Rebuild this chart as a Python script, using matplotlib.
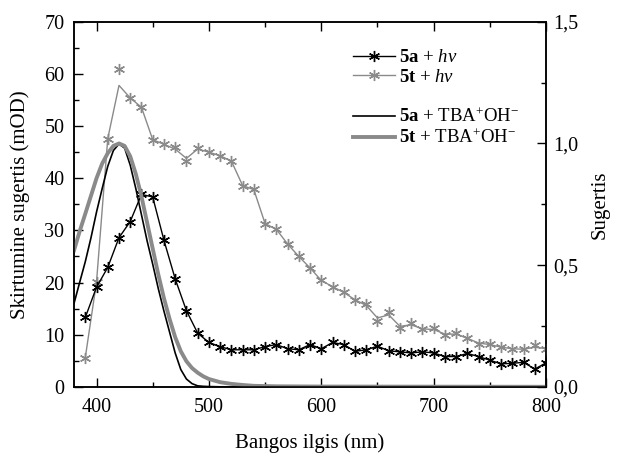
import matplotlib
matplotlib.use("Agg")
import matplotlib.pyplot as plt
from matplotlib.lines import Line2D
from matplotlib.ticker import MultipleLocator

plt.rcParams["font.family"] = ["Liberation Serif", "DejaVu Serif"]
plt.rcParams["mathtext.fontset"] = "custom"
plt.rcParams["mathtext.rm"] = "Liberation Serif"
plt.rcParams["mathtext.it"] = "Liberation Serif:italic"
plt.rcParams["mathtext.bf"] = "Liberation Serif:bold"

# hv series (left axis, mOD), points every 10 nm
wl_hv = list(range(390, 801, 10))
a_hv = [13.3, 19.1, 22.9, 28.6, 31.7, 36.9, 36.4, 28.1, 20.7, 14.6,
        10.3, 8.5, 7.7, 7.1, 7.1, 7.1, 7.7, 8.1, 7.3, 7.1,
        8.1, 7.3, 8.5, 8.1, 6.8, 7.1, 7.8, 6.9, 6.7, 6.5,
        6.7, 6.5, 5.8, 5.8, 6.4, 5.8, 5.1, 4.4, 4.5, 4.7,
        3.4, 4.6]
t_hv = [5.6, 20.1, 47.6, 60.9, 55.4, 53.6, 47.4, 46.5, 46.0, 43.3,
        45.8, 45.0, 44.3, 43.3, 38.5, 38.0, 31.3, 30.3, 27.4, 25.0,
        22.8, 20.4, 19.2, 18.1, 16.7, 15.8, 12.7, 14.3, 11.3, 12.2,
        11.0, 11.2, 10.0, 10.3, 9.4, 8.3, 8.2, 7.7, 7.2, 7.2,
        8.0, 7.3]
# smoothed line drawn through the 5t + hv points
t_hv_line = [5.6, 20.1, 47.6, 57.8, 55.4, 53.6, 47.4, 46.5, 45.6, 43.8,
             45.6, 45.0, 44.3, 43.3, 38.6, 37.8, 31.3, 30.2, 27.4, 25.0,
             22.8, 20.4, 19.2, 18.1, 16.7, 15.6, 13.2, 13.8, 11.6, 11.9,
             11.1, 11.0, 10.1, 10.1, 9.3, 8.4, 8.1, 7.6, 7.3, 7.2,
             7.6, 7.3]

# TBA+OH- absorbance (right axis)
wl_tba = [380, 385, 390, 395, 400, 405, 410, 415, 420, 425, 430, 435, 440,
          445, 450, 455, 460, 465, 470, 475, 480, 485, 490, 495, 500, 510,
          520, 530, 540, 560, 600, 800]
a_tba = [0.343, 0.429, 0.514, 0.611, 0.718, 0.814, 0.906, 0.971, 0.998,
         0.981, 0.911, 0.814, 0.707, 0.600, 0.504, 0.403, 0.311, 0.225,
         0.139, 0.071, 0.032, 0.013, 0.004, 0.002, 0.001, 0.0, 0.0, 0.0,
         0.0, 0.0, 0.0, 0.0]
t_tba = [0.561, 0.639, 0.711, 0.784, 0.857, 0.917, 0.960, 0.990, 1.0,
         0.990, 0.947, 0.874, 0.782, 0.675, 0.568, 0.461, 0.364, 0.279,
         0.204, 0.146, 0.105, 0.077, 0.058, 0.043, 0.032, 0.019, 0.012,
         0.0075, 0.004, 0.002, 0.001, 0.0]

left_ticks = [0, 10, 20, 30, 40, 50, 60, 70]
right_ticks = [0.0, 0.5, 1.0, 1.5]
right_labels = ["0,0", "0,5", "1,0", "1,5"]
x_ticks = [400, 500, 600, 700, 800]

gray = "#8a8a8a"
star = (6, 2, 0)

fig = plt.figure(figsize=(6.17, 4.54), dpi=100)
ax = fig.add_axes([0.120, 0.148, 0.765, 0.804])
ax2 = ax.twinx()

ax.plot(wl_hv, t_hv_line, color=gray, lw=1.0, zorder=2)
ax.plot(wl_hv, t_hv, color=gray, lw=0, marker=star, ms=8, mew=1.0, zorder=3)
ax.plot(wl_hv, a_hv, color="black", lw=1.0, marker=star, ms=8, mew=1.0, zorder=4)

ax2.plot(wl_tba, a_tba, color="black", lw=1.2)
ax2.plot(wl_tba, t_tba, color=gray, lw=2.8)

ax.set_xlim(380, 800)
ax.set_ylim(0, 70)
ax2.set_ylim(0, 1.5)
ax.set_xticks(x_ticks)
ax.set_yticks(left_ticks)
ax2.set_yticks(right_ticks)
ax2.set_yticklabels(right_labels)
ax.xaxis.set_minor_locator(MultipleLocator(50))
ax.yaxis.set_minor_locator(MultipleLocator(5))
ax2.yaxis.set_minor_locator(MultipleLocator(0.25))

ax.tick_params(which="both", direction="in", top=True, right=False, labelsize=14.5, width=1.0)
ax.tick_params(which="major", length=6.5)
ax.tick_params(which="minor", length=3.5)
ax.tick_params(axis="x", which="major", pad=8)
ax.tick_params(axis="y", which="major", pad=7)
ax2.tick_params(which="both", direction="in", labelsize=14.5, width=1.0)
ax2.tick_params(which="major", length=6.5, pad=5)
ax2.tick_params(which="minor", length=3.5)
for a in (ax, ax2):
    for s in a.spines.values():
        s.set_linewidth(1.1)

ax.set_xlabel("Bangos ilgis (nm)", fontsize=15, labelpad=12)
ax.set_ylabel("Skirtumine sugertis (mOD)", fontsize=15, labelpad=10)
ax2.set_ylabel("Sugertis", fontsize=15, labelpad=9)

handles = [
    Line2D([], [], color="black", lw=1.0, marker=star, ms=8, mew=1.0),
    Line2D([], [], color=gray, lw=1.0, marker=star, ms=8, mew=1.0),
    Line2D([], [], color="none"),
    Line2D([], [], color="black", lw=1.2),
    Line2D([], [], color=gray, lw=2.8),
]
labels = [
    r"$\mathbf{5a}$ + $h\nu$",
    r"$\mathbf{5t}$ + $h\nu$",
    " ",
    r"$\mathbf{5a}$ + TBA$^{+}$OH$^{-}$",
    r"$\mathbf{5t}$ + TBA$^{+}$OH$^{-}$",
]
ax2.legend(handles, labels, loc="upper left", bbox_to_anchor=(0.575, 0.945),
           frameon=False, fontsize=13.5, handlelength=2.25, handletextpad=0.2,
           labelspacing=0.12, borderaxespad=0)

fig.savefig("out.png", dpi=100)
